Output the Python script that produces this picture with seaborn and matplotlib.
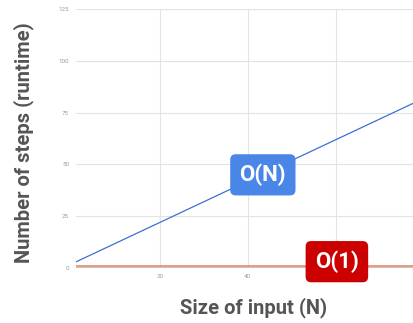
import matplotlib
matplotlib.use("Agg")
import matplotlib.pyplot as plt
import seaborn as sns
import pandas as pd

sns.set_style("white")
plt.rcParams['font.family'] = ['Roboto', 'DejaVu Sans']

# values
input_size = [1, 78]
linear_steps = [3, 80]
constant_steps = [1, 1]
y_ticks = [0, 25, 50, 75, 100, 125]
x_ticks = [20, 40, 60]

df = pd.DataFrame({"N": input_size, "linear": linear_steps, "constant": constant_steps})

fig = plt.figure(figsize=(4.14, 3.23), dpi=100)
ax = fig.add_axes([0.1836, 0.170, 0.8164, 0.802])

sns.lineplot(data=df, x="N", y="linear", ax=ax, color="#3c6fd4", linewidth=0.9)
sns.lineplot(data=df, x="N", y="constant", ax=ax, color="#e8876b", linewidth=1.2, zorder=3)

ax.set_xlim(1, 77.7)
ax.set_ylim(0, 125)
ax.set_yticks(y_ticks)
ax.set_xticks(x_ticks)
ax.set_xticklabels(["20", "40", ""])
ax.grid(True, color="#e3e3e3", linewidth=0.8)
ax.axhline(0, color="#b8b8b8", linewidth=1.2, zorder=2)
for s in ax.spines.values():
    s.set_visible(False)
ax.tick_params(axis="both", length=0, labelsize=4.5, labelcolor="#9a9a9a")
ax.tick_params(axis="y", pad=5)
ax.tick_params(axis="x", pad=4)

ax.set_xlabel("Size of input (N)", fontsize=14.5, fontweight="bold", color="#555555")
ax.set_ylabel("Number of steps (runtime)", fontsize=14.5, fontweight="bold", color="#555555")
ax.xaxis.set_label_coords(0.524, -0.154)
ax.yaxis.set_label_coords(-0.154, 0.486)
ax.xaxis.label.set_va("center")
ax.yaxis.label.set_va("center")

ax.text(43.4, 45, "O(N)", ha="center", va="center", fontsize=16, fontweight="bold", color="white",
        zorder=5, bbox=dict(boxstyle="round,pad=0.42,rounding_size=0.25", fc="#4a86e8", ec="none"))
ax.text(60.2, 3.1, "O(1)", ha="center", va="center", fontsize=16, fontweight="bold", color="white",
        zorder=5, bbox=dict(boxstyle="round,pad=0.42,rounding_size=0.25", fc="#cc0000", ec="none"))

fig.savefig("out.png", dpi=100)
